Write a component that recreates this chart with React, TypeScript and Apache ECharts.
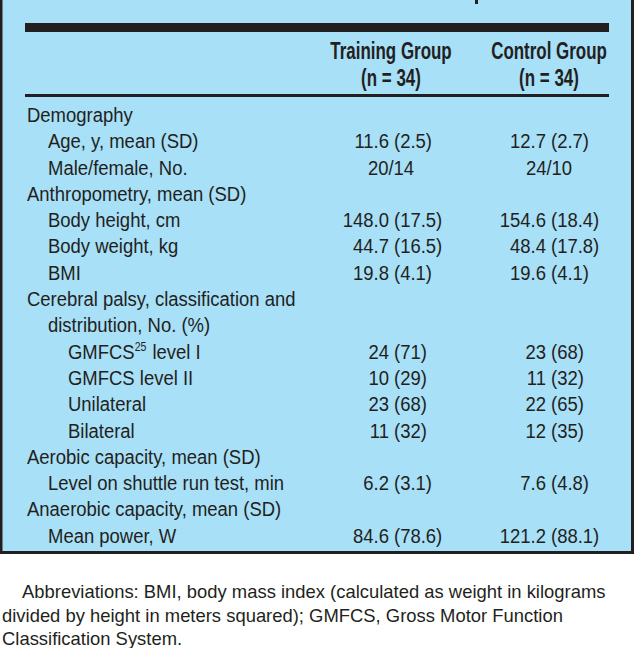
import React, { useEffect, useRef } from 'react';
import * as echarts from 'echarts';

const rowLabels = [
  'Demography',
  'Age, y, mean (SD)',
  'Male/female, No.',
  'Anthropometry, mean (SD)',
  'Body height, cm',
  'Body weight, kg',
  'BMI',
  'Cerebral palsy, classification and',
  'distribution, No. (%)',
  'GMFCS{sup|25} level I',
  'GMFCS level II',
  'Unilateral',
  'Bilateral',
  'Aerobic capacity, mean (SD)',
  'Level on shuttle run test, min',
  'Anaerobic capacity, mean (SD)',
  'Mean power, W',
];
const rowLevels = [0, 1, 1, 0, 1, 1, 1, 0, 1, 2, 2, 2, 2, 0, 1, 0, 1];
const trainingValues = ['', '11.6 (2.5)', '20/14', '', '148.0 (17.5)', '44.7 (16.5)', '19.8 (4.1)', '', '', '24 (71)', '10 (29)', '23 (68)', '11 (32)', '', '6.2 (3.1)', '', '84.6 (78.6)'];
const controlValues = ['', '12.7 (2.7)', '24/10', '', '154.6 (18.4)', '48.4 (17.8)', '19.6 (4.1)', '', '', '23 (68)', '11 (32)', '22 (65)', '12 (35)', '', '7.6 (4.8)', '', '121.2 (88.1)'];
const columnHeaders = ['Training Group', 'Control Group'];
const columnSubheaders = ['(n = 34)', '(n = 34)'];
const footnoteLines = [
  'Abbreviations: BMI, body mass index (calculated as weight in kilograms',
  'divided by height in meters squared); GMFCS, Gross Motor Function',
  'Classification System.',
];

const INK = '#231F20';
const BG = '#A8E0F8';
const FONT = '"Liberation Sans", Arial, Helvetica, sans-serif';

function txt(x: number, y: number, text: string, o: any = {}) {
  const align = o.align || 'left';
  return {
    type: 'text',
    x,
    y,
    scaleX: o.scaleX ?? 0.88,
    silent: true,
    style: {
      text,
      x: 0,
      y: 0,
      fill: INK,
      fontFamily: FONT,
      fontSize: o.fontSize ?? 21,
      fontWeight: o.fontWeight ?? 'normal',
      align,
      textAlign: align,
      verticalAlign: 'middle',
      textVerticalAlign: 'middle',
      rich: o.rich,
    },
  };
}

export default function App() {
  const ref = useRef<HTMLDivElement>(null);
  useEffect(() => {
    if (!ref.current) return;
    const chart = echarts.init(ref.current, undefined, { renderer: 'svg' });
    const els: any[] = [];
    // background box and borders
    els.push({ type: 'rect', shape: { x: 0, y: 0, width: 634, height: 554 }, style: { fill: BG }, silent: true });
    els.push({ type: 'rect', shape: { x: 0, y: 0, width: 2.5, height: 554 }, style: { fill: INK }, silent: true });
    els.push({ type: 'rect', shape: { x: 631, y: 0, width: 3, height: 554 }, style: { fill: INK }, silent: true });
    els.push({ type: 'rect', shape: { x: 0, y: 551, width: 634, height: 3 }, style: { fill: INK }, silent: true });
    // title descender remnant
    els.push({ type: 'rect', shape: { x: 475, y: 0, width: 3, height: 4 }, style: { fill: INK }, silent: true });
    // rules
    els.push({ type: 'rect', shape: { x: 25, y: 23, width: 584, height: 9 }, style: { fill: INK }, silent: true });
    els.push({ type: 'rect', shape: { x: 25, y: 94, width: 584, height: 3 }, style: { fill: INK }, silent: true });

    const colCenters = [391, 549];
    const parenX = [394, 551];
    columnHeaders.forEach((h, i) => {
      els.push(txt(colCenters[i], 51, h, { align: 'center', fontWeight: 'bold', fontSize: 23, scaleX: 0.737 }));
      els.push(txt(colCenters[i], 78, columnSubheaders[i], { align: 'center', fontWeight: 'bold', fontSize: 23, scaleX: 0.737 }));
    });

    const indentX = [27, 48, 68];
    const rowTop = 114.5;
    const rowStep = 26.3;
    rowLabels.forEach((lab, r) => {
      const y = rowTop + r * rowStep;
      els.push(
        txt(indentX[rowLevels[r]], y, lab, {
          rich: { sup: { fontSize: 12, fontFamily: FONT, fill: INK, verticalAlign: 'top', padding: [0, 1, 6, 0] } },
        })
      );
      [trainingValues[r], controlValues[r]].forEach((v, c) => {
        if (!v) return;
        const k = v.indexOf(' (');
        if (k < 0) {
          els.push(txt(colCenters[c], y, v, { align: 'center' }));
        } else {
          els.push(txt(parenX[c] - 5, y, v.slice(0, k), { align: 'right' }));
          els.push(txt(parenX[c], y, v.slice(k + 1), { align: 'left' }));
        }
      });
    });

    const footX = [22, 2, 2];
    const footY = [591.5, 615, 638.5];
    footnoteLines.forEach((line, i) => {
      els.push(txt(footX[i], footY[i], line, { fontSize: 19, scaleX: 0.97 }));
    });

    chart.setOption({
      animation: false,
      backgroundColor: '#ffffff',
      graphic: { elements: els },
    });
    return () => chart.dispose();
  }, []);
  return <div ref={ref} style={{ position: 'absolute', left: 0, top: 0, width: 634, height: 648 }} />;
}
